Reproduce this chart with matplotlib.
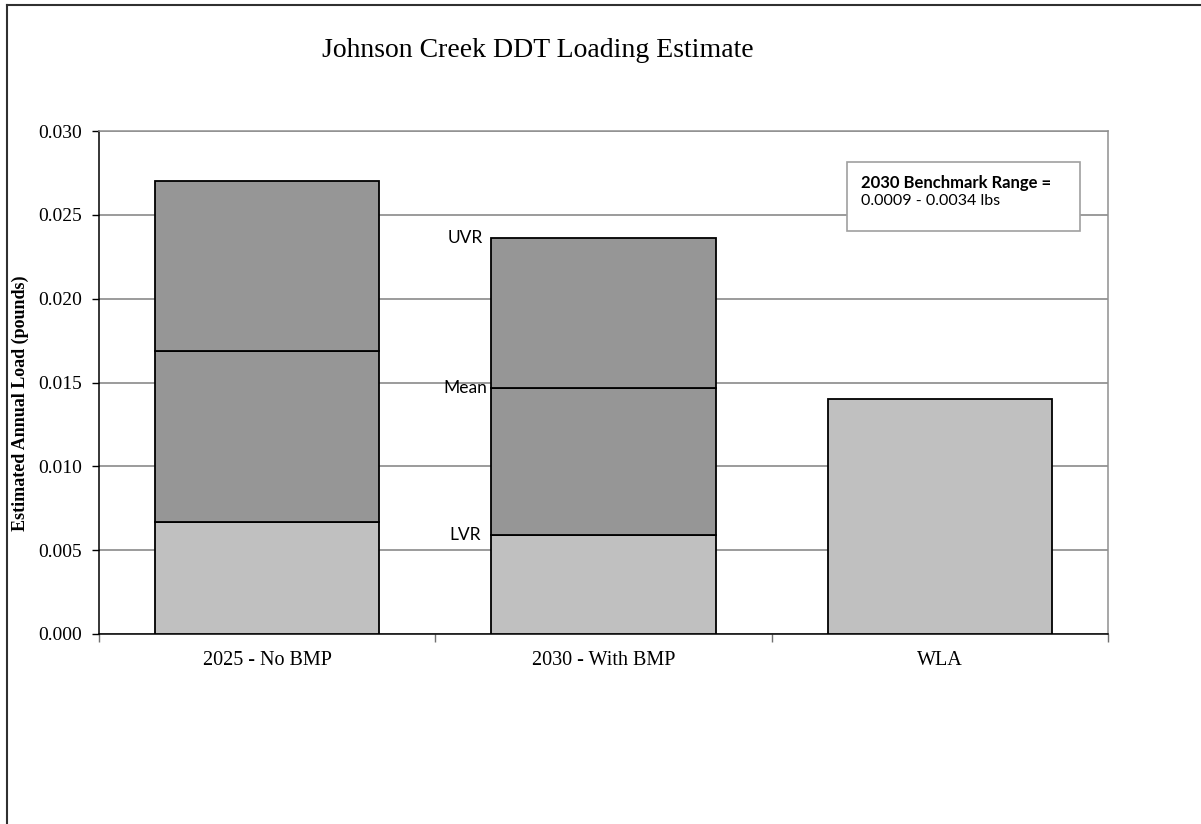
import matplotlib.pyplot as plt
from matplotlib.lines import Line2D
from matplotlib.patches import Rectangle
import numpy as np

# loading estimates (lbs/yr)
categories = ['2025 - No BMP', '2030 - With BMP', 'WLA']
lvr = [0.0067, 0.0059]
mean = [0.0169, 0.0147]
uvr = [0.0270, 0.0236]
wla = 0.0140
band_labels = ['LVR', 'Mean', 'UVR']

light = '#c0c0c0'
dark = '#969696'

fig = plt.figure(figsize=(12.01, 8.24), dpi=100)
ax = fig.add_axes([0.0824, 0.2306, 0.8402, 0.6104])

x = np.arange(len(categories))
w = 0.667
kw = dict(width=w, edgecolor='black', linewidth=1.3, zorder=3)

# stacked ranges for the two scenarios, single bar for the WLA
ax.bar(x[:2], lvr, color=light, **kw)
ax.bar(x[:2], np.subtract(mean, lvr), bottom=lvr, color=dark, **kw)
ax.bar(x[:2], np.subtract(uvr, mean), bottom=mean, color=dark, **kw)
ax.bar(x[2], wla, color=light, **kw)

for lab, val in zip(band_labels, [lvr[1], mean[1], uvr[1]]):
    ax.text(x[1] - 0.412, val, lab, ha='center', va='center',
            family='Lato', fontsize=12.5, color='black')

ax.set_ylim(0, 0.030)
ax.set_xlim(-0.5, 2.5)
ax.set_yticks(np.arange(0, 0.0301, 0.005))
ax.set_yticklabels(['%.3f' % v for v in np.arange(0, 0.0301, 0.005)],
                   family='Liberation Serif', fontsize=14)
ax.set_xticks(x)
ax.set_xticklabels(categories, family='Liberation Serif', fontsize=14.5)
ax.set_xticks([-0.5, 0.5, 1.5, 2.5], minor=True)
ax.tick_params(axis='x', which='major', length=0, pad=12)
ax.tick_params(axis='x', which='minor', length=6, width=1, color='#707070',
               direction='out')
ax.tick_params(axis='y', length=5, width=1, direction='out', pad=7)

ax.yaxis.grid(True, color='#808080', linewidth=1.1, zorder=0)
ax.set_axisbelow(True)
for s in ['top', 'right']:
    ax.spines[s].set_color('#909090')
    ax.spines[s].set_linewidth(1.1)
for s in ['left', 'bottom']:
    ax.spines[s].set_color('black')
    ax.spines[s].set_linewidth(1.1)

ax.set_ylabel('Estimated Annual Load (pounds)', family='Liberation Serif',
              fontsize=13, fontweight='bold')
ax.yaxis.set_label_coords(-0.069, 0.459)

fig.text(0.448, 0.939, 'Johnson Creek DDT Loading Estimate', ha='center',
         va='center', family='Liberation Serif', fontsize=20)

# benchmark note
ax.add_patch(Rectangle((0.741, 0.801), 0.231, 0.137, transform=ax.transAxes,
                       facecolor='white', edgecolor='#a0a0a0', linewidth=1.2,
                       zorder=5))
ax.text(0.755, 0.897, '2030 Benchmark Range =', transform=ax.transAxes,
        family='Lato', fontweight='bold', fontsize=12, va='center', zorder=6)
ax.text(0.755, 0.861, '0.0009 - 0.0034 lbs', transform=ax.transAxes,
        family='Lato', fontsize=11.5, va='center', zorder=6)

# page frame
fig.add_artist(Line2D([7 / 1201, 7 / 1201], [0, 1 - 5 / 824], color='#303030',
                      linewidth=1.5, transform=fig.transFigure))
fig.add_artist(Line2D([7 / 1201, 1], [1 - 5 / 824, 1 - 5 / 824],
                      color='#303030', linewidth=1.5,
                      transform=fig.transFigure))

fig.savefig('out.png', dpi=100)
